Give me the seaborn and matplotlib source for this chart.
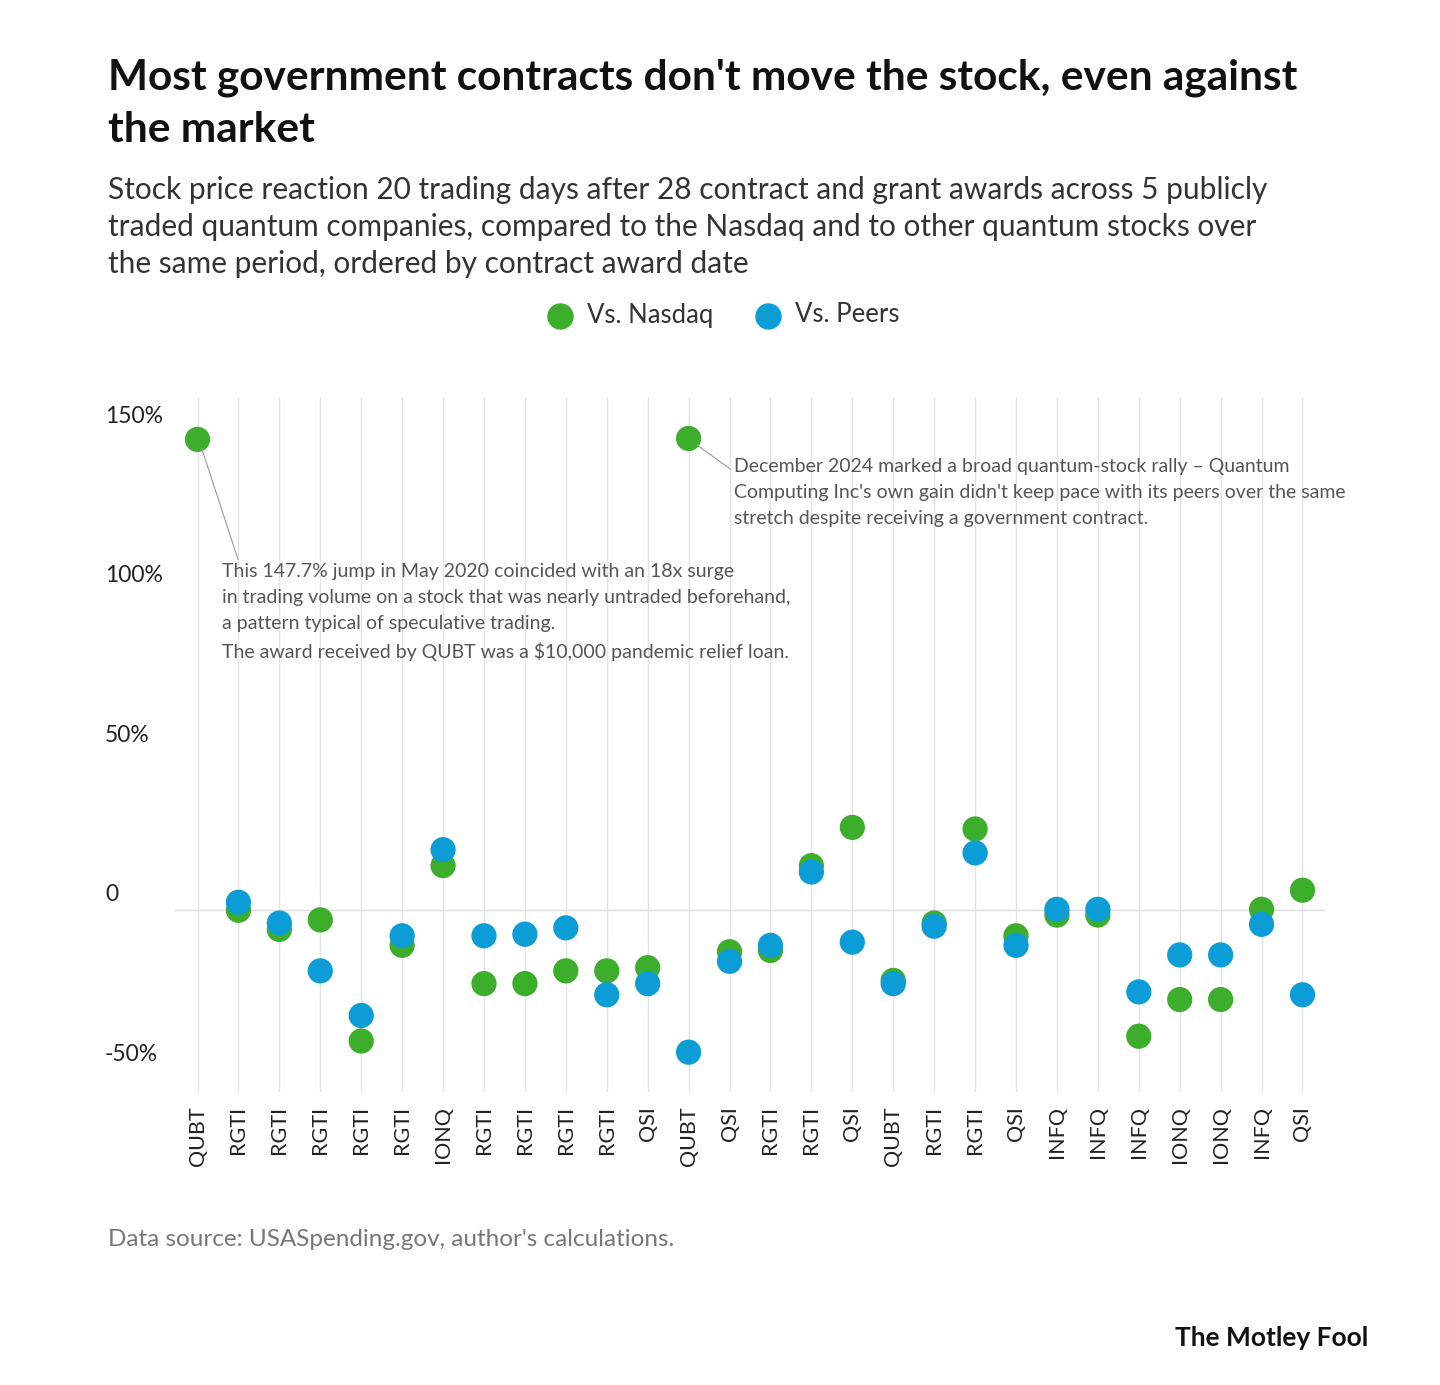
import numpy as np
import pandas as pd
import matplotlib.pyplot as plt
import seaborn as sns

tickers = ["QUBT", "RGTI", "RGTI", "RGTI", "RGTI", "RGTI", "IONQ", "RGTI", "RGTI", "RGTI",
           "RGTI", "QSI", "QUBT", "QSI", "RGTI", "RGTI", "QSI", "QUBT", "RGTI", "RGTI",
           "QSI", "INFQ", "INFQ", "INFQ", "IONQ", "IONQ", "INFQ", "QSI"]
vs_nasdaq = [147.7, 0.0, -6.0, -3.0, -41.0, -11.0, 14.0, -23.0, -23.0, -19.0,
             -19.0, -18.0, 148.0, -13.0, -12.6, 14.0, 26.0, -22.0, -4.0, 25.5,
             -8.0, -1.5, -1.5, -39.5, -28.0, -28.0, 0.3, 6.3]
vs_peers = [np.nan, 2.5, -4.0, -19.0, -33.0, -8.0, 19.0, -8.0, -7.5, -5.5,
            -26.5, -23.0, -44.5, -16.0, -11.0, 12.0, -10.0, -23.0, -5.0, 18.0,
            -11.0, 0.3, 0.3, -25.6, -14.0, -14.0, -4.4, -26.5]
y_ticks = [150, 100, 50, 0, -50]
y_labels = ["150%", "100%", "50%", "0", "-50%"]

GREEN = "#3dae2b"
BLUE = "#0d9dd6"

rows = []
for i, t in enumerate(tickers):
    rows.append({"pos": i, "ticker": t, "value": vs_nasdaq[i], "series": "Vs. Nasdaq"})
    rows.append({"pos": i, "ticker": t, "value": vs_peers[i], "series": "Vs. Peers"})
df = pd.DataFrame(rows).dropna()

sns.set_style("white")
plt.rcParams["font.family"] = ["Lato", "DejaVu Sans"]

fig = plt.figure(figsize=(14.4, 13.85), dpi=100)
ax = fig.add_axes([175 / 1440, 1 - 1092 / 1385, 1150 / 1440, 695 / 1385])

for i in range(len(tickers)):
    ax.axvline(i, color="#e3e3e3", lw=1, zorder=0)
ax.axhline(0, color="#dcdcdc", lw=1, zorder=0)

sns.scatterplot(data=df, x="pos", y="value", hue="series", palette=[GREEN, BLUE],
                s=330, edgecolor="none", legend=False, ax=ax, zorder=3)

ax.set_xlim(-0.55, len(tickers) - 0.45)
ax.set_ylim(-57, 161)
ax.set_xticks(range(len(tickers)))
ax.set_xticklabels(tickers, rotation=90, fontsize=15.5, color="#222222")
ax.set_yticks([])
ax.set_xlabel("")
ax.set_ylabel("")
ax.tick_params(axis="x", length=0, pad=10)
for s in ax.spines.values():
    s.set_visible(False)

for v, lab in zip(y_ticks, y_labels):
    ax.annotate(lab, xy=(0, v), xycoords=("figure fraction", "data"),
                xytext=(105, 5), textcoords="offset pixels", fontsize=16.5,
                color="#222222", va="bottom", ha="left")

ann = dict(fontsize=14, color="#555555", va="top", linespacing=1.65)
ax.annotate("This 147.7% jump in May 2020 coincided with an 18x surge\n"
            "in trading volume on a stock that was nearly untraded beforehand,\n"
            "a pattern typical of speculative trading.\n"
            "The award received by QUBT was a $10,000 pandemic relief loan.",
            xy=(0.1, 145), xytext=(0.6, 109), **ann,
            arrowprops=dict(arrowstyle="-", color="#999999", lw=0.8, shrinkA=0, shrinkB=0,
                            relpos=(0.03, 1.0)))
ax.annotate("December 2024 marked a broad quantum-stock rally \u2013 Quantum\n"
            "Computing Inc's own gain didn't keep pace with its peers over the same\n"
            "stretch despite receiving a government contract.",
            xy=(12.2, 146), xytext=(13.1, 142), **ann,
            arrowprops=dict(arrowstyle="-", color="#999999", lw=0.8, shrinkA=0, shrinkB=0,
                            relpos=(0.0, 0.8)))

fig.text(108 / 1440, 1 - 104 / 1385, "Most government contracts don't move the stock, even against\nthe market",
         fontsize=30.5, fontweight="bold", color="#111111", va="center", linespacing=1.45)
fig.text(108 / 1440, 1 - 227 / 1385,
         "Stock price reaction 20 trading days after 28 contract and grant awards across 5 publicly\n"
         "traded quantum companies, compared to the Nasdaq and to other quantum stocks over\n"
         "the same period, ordered by contract award date",
         fontsize=21.5, color="#333333", va="center", linespacing=1.4)

for x0, c, lab in [(560, GREEN, "Vs. Nasdaq"), (768, BLUE, "Vs. Peers")]:
    fig.lines.append(plt.Line2D([x0 / 1440], [1 - 316 / 1385], marker="o", markersize=18,
                                color=c, transform=fig.transFigure))
    fig.text((x0 + 27) / 1440, 1 - 315 / 1385, lab, fontsize=18.5, color="#333333", va="center")

fig.text(108 / 1440, 1 - 1239 / 1385, "Data source: USASpending.gov, author's calculations.",
         fontsize=17.5, color="#777777", va="center")
fig.text(1368 / 1440, 1 - 1338 / 1385, "The Motley Fool", fontsize=19, fontweight="bold",
         color="#111111", ha="right", va="center")

fig.savefig("out.png", dpi=100, facecolor="white")
